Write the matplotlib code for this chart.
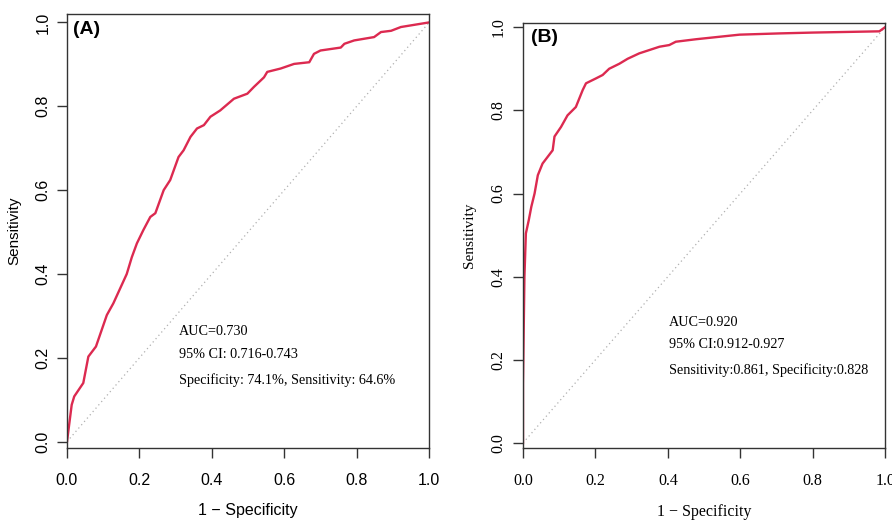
import matplotlib
matplotlib.use("Agg")
import matplotlib.pyplot as plt

# ROC curve (A): 1 - specificity, sensitivity
fpr_a = [0.0, 0.013, 0.02, 0.045, 0.059, 0.08, 0.11, 0.128, 0.165, 0.179, 0.193, 0.211,
         0.23, 0.244, 0.267, 0.285, 0.308, 0.322, 0.341, 0.359, 0.378, 0.396, 0.423,
         0.461, 0.498, 0.516, 0.544, 0.553, 0.59, 0.627, 0.669, 0.682, 0.7, 0.756,
         0.766, 0.793, 0.848, 0.867, 0.895, 0.922, 1.0]
tpr_a = [0.0, 0.088, 0.108, 0.14, 0.203, 0.227, 0.302, 0.33, 0.40, 0.44, 0.473, 0.505,
         0.536, 0.545, 0.60, 0.624, 0.679, 0.695, 0.727, 0.747, 0.755, 0.775, 0.79,
         0.818, 0.83, 0.846, 0.869, 0.882, 0.89, 0.901, 0.905, 0.925, 0.933, 0.94,
         0.949, 0.957, 0.965, 0.977, 0.98, 0.989, 1.0]

# ROC curve (B)
fpr_b = [0.0, 0.0, 0.004, 0.008, 0.016, 0.023, 0.032, 0.041, 0.054, 0.082, 0.087,
         0.105, 0.123, 0.146, 0.165, 0.174, 0.202, 0.22, 0.238, 0.266, 0.289, 0.321,
         0.349, 0.377, 0.404, 0.422, 0.478, 0.598, 0.708, 0.8, 0.984, 1.0]
tpr_b = [0.0, 0.143, 0.40, 0.504, 0.536, 0.568, 0.60, 0.644, 0.672, 0.704, 0.737,
         0.76, 0.788, 0.808, 0.849, 0.865, 0.877, 0.885, 0.90, 0.912, 0.924, 0.937,
         0.945, 0.953, 0.957, 0.965, 0.971, 0.982, 0.985, 0.987, 0.99, 1.0]

text_a = ["AUC=0.730", "95% CI: 0.716-0.743", "Specificity: 74.1%, Sensitivity: 64.6%"]
text_b = ["AUC=0.920", "95% CI:0.912-0.927", "Sensitivity:0.861, Specificity:0.828"]

ticks = [0.0, 0.2, 0.4, 0.6, 0.8, 1.0]
tick_labels = ["0.0", "0.2", "0.4", "0.6", "0.8", "1.0"]

red = "#dc2a50"
sans = "Liberation Sans"
serif = "Liberation Serif"

fig = plt.figure(figsize=(8.92, 5.23), dpi=100)
ax_a = fig.add_axes([0.0751, 0.1434, 0.406, 0.8298])
ax_b = fig.add_axes([0.5863, 0.1434, 0.406, 0.8126])


def roc_panel(ax, fpr, tpr, lines, font, letter, tx, ty, ylim, lx, ly, xlpad):
    ax.plot([0, 1], [0, 1], color="#b0b0b0", lw=0.9, ls=(0, (1, 2.5)))
    ax.plot(fpr, tpr, color=red, lw=1.7, solid_joinstyle="round")
    ax.set_xlim(0, 1)
    ax.set_ylim(*ylim)
    ax.set_xticks(ticks)
    ax.set_yticks(ticks)
    ax.set_xticklabels(tick_labels, fontfamily=font, fontsize=11.5)
    ax.set_yticklabels(tick_labels, fontfamily=font, fontsize=11.5, rotation=90, va="center")
    ax.tick_params(direction="out", length=7, width=1, color="#333333")
    ax.tick_params(axis="x", pad=11)
    ax.tick_params(axis="y", pad=5)
    for s in ax.spines.values():
        s.set_color("#333333")
        s.set_linewidth(1)
    ax.set_xlabel("1 \u2212 Specificity", fontfamily=font, fontsize=11.5, labelpad=xlpad)
    ax.set_ylabel("Sensitivity", fontfamily=font, fontsize=11, labelpad=10)
    ax.text(lx, ly, letter, fontfamily=sans, fontweight="bold", fontsize=14,
            va="center", ha="left")
    for i, t in enumerate(lines):
        ax.text(tx, ty[i], t, fontfamily=serif, fontsize=10.2, va="center", ha="left")


roc_panel(ax_a, fpr_a, tpr_a, text_a, sans, "(A)", 0.31, [0.264, 0.207, 0.148],
          (-0.015, 1.02), 0.017, 0.983, 11)
roc_panel(ax_b, fpr_b, tpr_b, text_b, serif, "(B)", 0.403, [0.291, 0.236, 0.175],
          (-0.012, 1.01), 0.022, 0.974, 11)

fig.savefig("out.png", dpi=100)
